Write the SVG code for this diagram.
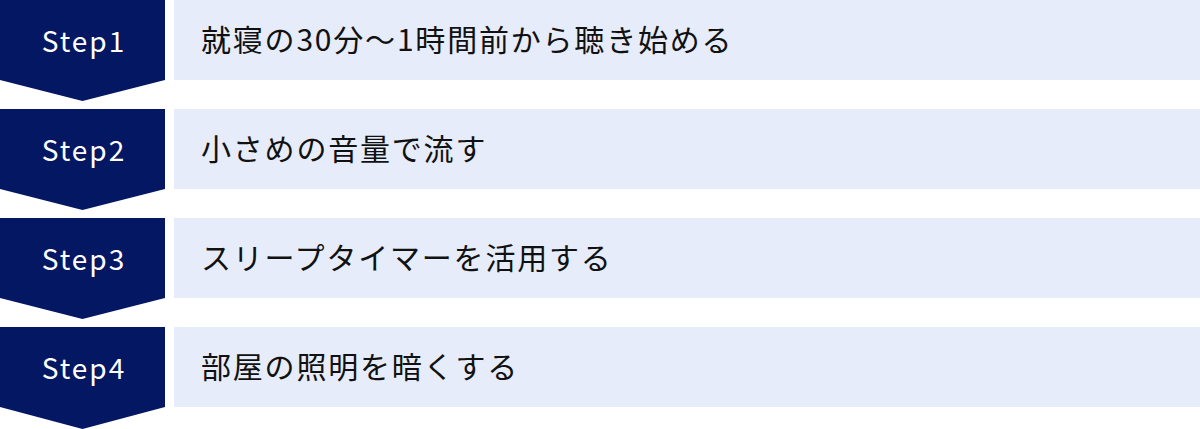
<svg xmlns="http://www.w3.org/2000/svg" width="1200" height="429" viewBox="0 0 1200 429">
  <defs>
    <style>
      .badge { fill: #041762; }
      .bar { fill: #E6ECF9; }
      .step { font-family: "Noto Sans CJK JP", "Noto Sans", sans-serif; font-size: 28px; fill: #FFFFFF; text-anchor: middle; letter-spacing: 2px; }
      .label { font-family: "Noto Sans CJK JP", "Noto Sans", sans-serif; font-size: 30px; fill: #111111; letter-spacing: 1.8px; }
    </style>
  </defs>
  <rect width="1200" height="429" fill="#FFFFFF"/>
  <g id="connectors"></g>
  <g id="step1">
    <polygon class="badge" points="0,0 165,0 165,80 82.5,101 0,80"/>
    <rect class="bar" x="174" y="0" width="1026" height="80"/>
    <text class="step" x="84" y="52">Step1</text>
    <text class="label" x="201" y="51">就寝の30分〜1時間前から聴き始める</text>
  </g>
  <g id="step2">
    <polygon class="badge" points="0,109 165,109 165,189 82.5,210 0,189"/>
    <rect class="bar" x="174" y="109" width="1026" height="80"/>
    <text class="step" x="84" y="161">Step2</text>
    <text class="label" x="201" y="160">小さめの音量で流す</text>
  </g>
  <g id="step3">
    <polygon class="badge" points="0,218 165,218 165,298 82.5,319 0,298"/>
    <rect class="bar" x="174" y="218" width="1026" height="80"/>
    <text class="step" x="84" y="270">Step3</text>
    <text class="label" x="201" y="269">スリープタイマーを活用する</text>
  </g>
  <g id="step4">
    <polygon class="badge" points="0,327 165,327 165,407 82.5,429 0,407"/>
    <rect class="bar" x="174" y="327" width="1026" height="80"/>
    <text class="step" x="84" y="379">Step4</text>
    <text class="label" x="201" y="378">部屋の照明を暗くする</text>
  </g>
</svg>
